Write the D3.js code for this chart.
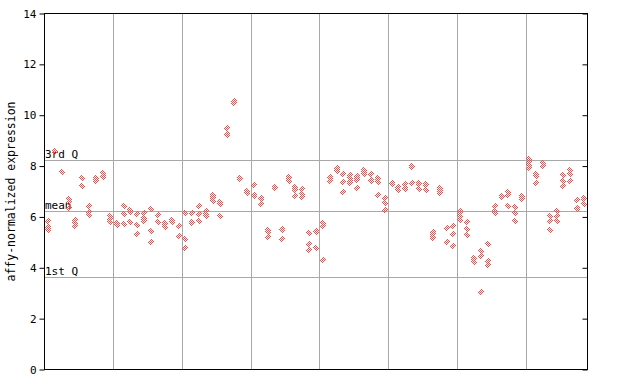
<!DOCTYPE html>
<html>
<head>
<meta charset="utf-8">
<script src="https://cdn.jsdelivr.net/npm/d3@7"></script>
<style>
  html, body { margin: 0; padding: 0; background: #fff; }
  svg { display: block; }
  text { font-family: "DejaVu Sans Mono", "Liberation Mono", monospace; }
</style>
</head>
<body>
<svg id="chart" width="640" height="384"></svg>
<script>
// ---- data: one inner array of replicate values per sample column ----
const section1 = [[5.83,5.6,5.52,5.48],[8.6,8.56],[7.76],[6.7,6.6,6.35],[5.87,5.76,5.66],
                  [7.54,7.23],[6.44,6.18,6.09],[7.52,7.48,7.4],[7.72,7.6,7.56],[6.02,5.92,5.81]];
const section2 = [[5.78,5.68],[6.42,6.13,5.74],[6.29,6.19,5.81],[6.13,5.69,5.34],[6.17,5.94,5.9,5.83],
                  [6.33,5.46,5.03],[6.09,5.81],[5.77,5.73,5.62],[5.86,5.82],[5.66,5.24]];
const section3 = [[6.17,5.14,4.79],[6.17,5.82,5.78],[6.44,6.13,5.83],[6.23,6.1,6.02],[6.88,6.8,6.76,6.61],
                  [6.57,6.5,6.02],[9.48,9.28,9.24],[10.55,10.5],[7.55,7.51],[7.02,6.93]];
const section4 = [[7.24,6.88,6.84],[6.76,6.72,6.52],[5.5,5.41,5.22],[7.16,7.12],[5.54,5.5,5.15],
                  [7.57,7.53,7.4],[7.18,7.09,7.05,6.81],[7.11,6.9,6.8],[5.35,4.95,4.71],[5.43,5.39,4.76]];
const section5 = [[5.75,5.66,4.29],[7.57,7.53,7.41],[7.92,7.88,7.81],[7.67,7.39,7.0],[7.64,7.55,7.43,7.35],
                  [7.59,7.55,7.47,7.15],[7.83,7.76,7.67],[7.7,7.47,7.43],[7.54,7.5,7.39,6.85],[6.76,6.56,6.29]];
const section6 = [[7.32,7.28],[7.17,7.07],[7.28,7.12,7.08],[8.0,7.96,7.35],[7.35,7.31,7.11],
                  [7.28,7.24,7.04],[5.41,5.31,5.22,5.18],[7.14,7.07,7.03,6.94],[5.58,5.0],[5.66,5.34,4.87]];
const section7 = [[6.25,6.15,6.04,5.86],[5.79,5.54,5.3],[4.38,4.34,4.24],[4.65,4.48,3.06],[4.95,4.28,4.09],
                  [6.44,6.25,6.14],[6.82,6.78],[6.98,6.86,6.44],[6.41,6.14,5.85],[6.83,6.79,6.69]];
const section8 = [[8.27,8.16,8.06,7.94],[7.7,7.6,7.35],[8.11,8.02],[6.05,5.83,5.47],[6.25,6.05,5.85],
                  [7.65,7.43,7.23],[7.86,7.67,7.43],[6.68,6.37,6.33],[6.73,6.69,6.52]];

const quartileNames  = ["3rd Q", "mean", "1st Q"];
const quartileValues = [8.22, 6.22, 3.62];
const yTicks = [0, 2, 4, 6, 8, 10, 12, 14];
const yTitle = "affy-normalized expression";

// ---- build ----
const sections = [section1, section2, section3, section4, section5, section6, section7, section8];
const columns = sections.flat();
const breaks = [];
let acc = 0;
sections.forEach((s, i) => { acc += s.length; if (i < sections.length - 1) breaks.push(acc); });
const points = [];
columns.forEach((vals, i) => vals.forEach(v => points.push({ col: i, v })));

const svg = d3.select("#chart");
const pLeft = 44.5, pRight = 587.5, pTop = 13.5, pBottom = 369.5;
const x = d3.scaleLinear().domain([0, columns.length]).range([pLeft, pRight]);
const y = d3.scaleLinear().domain([0, 14]).range([pBottom, pTop]);

const defs = svg.append("defs");
const pat = defs.append("pattern").attr("id", "checker")
  .attr("patternUnits", "userSpaceOnUse").attr("width", 2).attr("height", 2);
pat.append("rect").attr("x", 0).attr("y", 0).attr("width", 1).attr("height", 1).attr("fill", "#ff4a4a");
pat.append("rect").attr("x", 1).attr("y", 1).attr("width", 1).attr("height", 1).attr("fill", "#ff4a4a");

const grid = "#a8a8a8";
// vertical group separators
svg.append("g").selectAll("line").data(breaks).join("line")
  .attr("x1", d => Math.round(x(d)) + 0.5).attr("x2", d => Math.round(x(d)) + 0.5)
  .attr("y1", pTop).attr("y2", pBottom)
  .attr("stroke", grid).attr("stroke-width", 1);

// quartile lines
svg.append("g").selectAll("line").data(quartileValues).join("line")
  .attr("x1", pLeft).attr("x2", pRight)
  .attr("y1", d => Math.round(y(d)) + 0.5).attr("y2", d => Math.round(y(d)) + 0.5)
  .attr("stroke", grid).attr("stroke-width", 1);

svg.append("g").selectAll("text").data(quartileValues).join("text")
  .attr("x", pLeft + 0.5).attr("y", d => Math.round(y(d)) - 2)
  .attr("font-size", 11).attr("fill", "#000")
  .text((d, i) => quartileNames[i]);

// points
const r = 3.5;
svg.append("g").attr("shape-rendering", "crispEdges").selectAll("path").data(points).join("path")
  .attr("d", d => {
    const cx = Math.round(x(d.col + 0.5)), cy = Math.round(y(d.v));
    return `M${cx},${cy - r - 0.5}L${cx + r},${cy}L${cx},${cy + r + 0.5}L${cx - r},${cy}Z`;
  })
  .attr("fill", "url(#checker)");

// frame
svg.append("rect").attr("x", pLeft).attr("y", pTop)
  .attr("width", pRight - pLeft).attr("height", pBottom - pTop)
  .attr("fill", "none").attr("stroke", "#000").attr("stroke-width", 1);

// left axis
const yAxis = d3.axisLeft(y).tickValues(yTicks).tickSize(5).tickPadding(3).tickFormat(d3.format("d"));
const gy = svg.append("g").attr("transform", `translate(${pLeft},0)`).call(yAxis);
gy.select(".domain").remove();
gy.selectAll("text").attr("font-size", 11).attr("font-family", "DejaVu Sans Mono, monospace").attr("fill", "#000");
gy.selectAll("line").attr("stroke", "#000");

// right axis, inward ticks
const yAxisR = d3.axisLeft(y).tickValues(yTicks).tickSize(5).tickFormat("");
const gr = svg.append("g").attr("transform", `translate(${pRight},0)`).call(yAxisR);
gr.select(".domain").remove();
gr.selectAll("line").attr("stroke", "#000");

// y title
svg.append("text")
  .attr("transform", `translate(15,${(pTop + pBottom) / 2}) rotate(-90)`)
  .attr("text-anchor", "middle").attr("font-size", 11.5).attr("fill", "#000")
  .text(yTitle);
</script>
</body>
</html>
